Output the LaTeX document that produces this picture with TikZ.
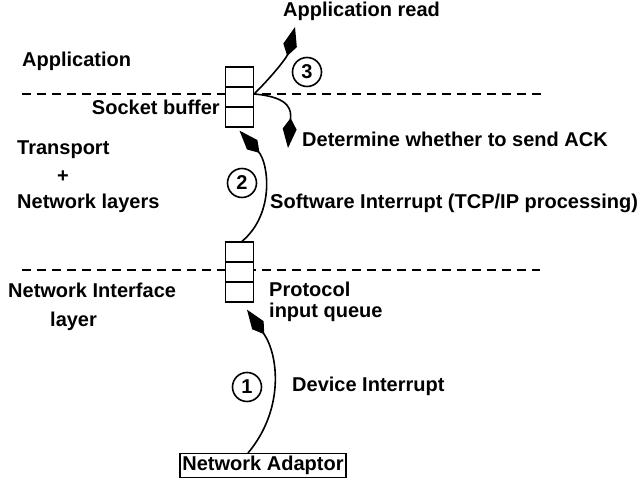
\documentclass[tikz,border=0pt]{standalone}
\usepackage{fontspec}
\setmainfont{Liberation Sans}
\usetikzlibrary{arrows.meta}

\begin{document}
\begin{tikzpicture}[x=1pt, y=1pt,
  every node/.style = {font=\bfseries\fontsize{20}{22}\selectfont, inner sep=0pt},
  cell/.style = {draw, fill=white, line width=1.3pt, minimum width=28pt, minimum height=20pt},
  layerline/.style = {line width=1.3pt, dash pattern=on 9pt off 6pt},
  flow/.style = {line width=1.6pt, -{Kite[length=30pt,width=14pt,inset=11pt]}},
  stepno/.style = {draw, circle, line width=1.6pt, minimum size=29pt}]
  \useasboundingbox (0,0) rectangle (641,481);
  \draw [layerline] (22,387) -- (545,387);
  \draw [layerline] (22,211) -- (540,211);
  \node [cell] (sb1) at (239.5,404) {};
  \node [cell] (sb2) at (239.5,384) {};
  \node [cell] (sb3) at (239.5,364) {};
  \node [cell] (pq1) at (239.5,229) {};
  \node [cell] (pq2) at (239.5,209) {};
  \node [cell] (pq3) at (239.5,189) {};
  \node [draw, line width=1.3pt, inner sep=2.5pt] (adaptor) at (263,15.5) {Network Adaptor};
  \node [anchor=base west] (appread) at (283,464) {Application read};
  \node [anchor=base west] (app) at (22,414) {Application};
  \node [anchor=base east] (sockbuf) at (220,366) {Socket buffer};
  \node [anchor=base west] (transport) at (17,326) {Transport};
  \node (plus) at (63,304) {+};
  \node [anchor=base west] (netlayers) at (17,272) {Network layers};
  \node [anchor=base west] (ack) at (302,334) {Determine whether to send ACK};
  \node [anchor=base west] (softint) at (270,272) {Software Interrupt (TCP/IP processing)};
  \node [anchor=base west] (proto) at (269,184) {Protocol};
  \node [anchor=base west] (inq) at (269,163) {input queue};
  \node [anchor=base west] (netif) at (8,183) {Network Interface};
  \node [anchor=base west] (layer) at (50,154) {layer};
  \node [anchor=base west] (devint) at (292,89) {Device Interrupt};
  \node [stepno] (s3) at (307,409) {3};
  \node [stepno] (s2) at (242,298) {2};
  \node [stepno] (s1) at (247,94) {1};
  \coordinate (readtip) at (295,454);
  \coordinate (acktip) at (288,333);
  \draw [flow] ([xshift=-15pt]adaptor.north) to[out=50, in=-55] ([xshift=7.5pt,yshift=-7pt]pq3.south);
  \draw [flow] ([xshift=2.5pt]pq1.north) to[out=40, in=-48] ([yshift=-3pt]sb3.south);
  \draw [flow] ([yshift=3pt]sb2.east) to[out=45, in=-105] (readtip);
  \draw [flow] ([yshift=3pt]sb2.east) to[out=-5, in=85, looseness=1.5] (acktip);
\end{tikzpicture}
\end{document}
